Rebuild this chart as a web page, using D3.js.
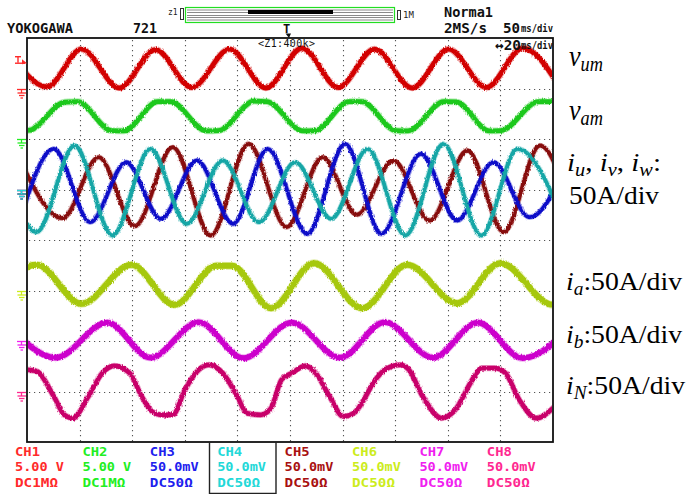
<!DOCTYPE html>
<html>
<head>
<meta charset="utf-8">
<script src="https://cdn.jsdelivr.net/npm/d3@7"></script>
<style>
  html, body { margin: 0; padding: 0; background: #fff; }
  svg { display: block; }
</style>
</head>
<body>
<svg id="scope" width="689" height="494"></svg>
<script>
// ---------- acquisition data (time in divisions, level in divisions above each channel's ground) ----------
const gridCols = [1, 2, 3, 4, 5, 6, 7, 8, 9];
const gridRows = [1, 2, 3, 4, 5, 6, 7];

// v_um (CH1)
const vumKnots = [[-0.363,0.78],[0.38,0.03],[1.035,0.78],[1.756,0.01],[2.444,0.77],[3.132,0.02],[3.853,0.78],[4.541,0.01],[5.229,0.80],[5.917,0.02],[6.606,0.78],[7.326,0.01],[8.014,0.78],[8.735,0.02],[9.423,0.80],[10.133,0.02]];
// v_am (CH2)
const vamKnots = [[-0.2,0.165],[0.03,0.17],[0.72,0.73],[0.96,0.74],[1.61,0.165],[1.84,0.16],[2.49,0.74],[2.73,0.74],[3.41,0.16],[3.64,0.165],[4.32,0.75],[4.56,0.74],[5.25,0.16],[5.47,0.165],[6.13,0.74],[6.36,0.74],[7.02,0.165],[7.24,0.16],[7.93,0.74],[8.16,0.735],[8.79,0.16],[9.01,0.165],[9.73,0.74],[9.97,0.74],[10.6,0.17]];
// i_v (CH3)
const ivKnots = [[-0.14,-0.62],[0.511,0.805],[1.199,-0.647],[1.887,0.54],[2.543,-0.581],[3.231,0.574],[3.919,-0.68],[4.574,0.805],[5.328,-0.878],[6.048,0.904],[6.736,-0.878],[7.49,0.706],[8.178,-0.614],[8.866,0.54],[9.554,-0.548],[10.35,0.75]];
// i_w (CH4)
const iwKnots = [[-0.51,0.8],[0.183,-0.845],[0.904,0.871],[1.625,-0.911],[2.346,0.805],[3.034,-0.68],[3.722,0.574],[4.41,-0.647],[5.098,0.541],[5.786,-0.581],[6.474,0.805],[7.195,-0.911],[7.916,0.904],[8.637,-0.911],[9.325,0.805],[10.28,-0.85]];
// i_u (CH5)
const iuKnots = [[-0.15,0.62],[0.675,-0.568],[1.363,0.64],[2.051,-0.726],[2.772,0.838],[3.493,-0.911],[4.214,0.904],[4.934,-0.746],[5.622,0.64],[6.27,-0.50],[6.966,0.574],[7.654,-0.614],[8.375,0.772],[9.063,-0.845],[9.751,0.871],[10.44,-0.8]];
// i_a (CH6)
const iaKnots = [[-0.72,-0.28],[0.183,0.508],[1.035,-0.264],[1.986,0.508],[2.805,-0.284],[3.6,0.49],[3.9,0.488],[4.64,-0.35],[5.459,0.541],[6.376,-0.35],[7.228,0.508],[8.178,-0.251],[8.997,0.541],[10.0,-0.284],[10.8,0.5]];
// i_b (CH7)
const ibKnots = [[-0.4,0.364],[0.544,-0.33],[1.527,0.364],[2.346,-0.33],[3.263,0.37],[4.115,-0.34],[5.033,0.364],[5.95,-0.33],[6.802,0.37],[7.72,-0.33],[8.571,0.364],[9.423,-0.34],[10.4,0.364]];
// i_N (CH8)
const iNKnots = [[-0.3,0.45],[0.0,0.43],[0.183,0.40],[0.511,-0.1],[0.708,-0.46],[0.872,-0.528],[1.166,-0.1],[1.429,0.363],[1.658,0.508],[1.953,0.363],[2.182,-0.1],[2.379,-0.396],[2.543,-0.462],[2.772,-0.462],[3.001,0.033],[3.264,0.43],[3.46,0.528],[3.722,0.363],[3.984,-0.066],[4.181,-0.429],[4.443,-0.462],[4.64,-0.33],[4.837,0.231],[5.033,0.363],[5.295,0.508],[5.491,0.363],[5.753,-0.1],[6.016,-0.495],[6.212,-0.429],[6.671,0.297],[6.802,0.43],[7.097,0.528],[7.261,0.43],[7.523,-0.1],[7.883,-0.528],[8.113,-0.396],[8.506,0.297],[8.637,0.462],[8.899,0.462],[9.096,0.363],[9.358,-0.165],[9.685,-0.528],[10.0,-0.33],[10.2,-0.1]];

// channel settings shown under the screen
const channelNames    = ["CH1", "CH2", "CH3", "CH4", "CH5", "CH6", "CH7", "CH8"];
const channelScales   = ["5.00 V", "5.00 V", "50.0mV", "50.0mV", "50.0mV", "50.0mV", "50.0mV", "50.0mV"];
const channelCoupling = ["DC1MΩ", "DC1MΩ", "DC50Ω", "DC50Ω", "DC50Ω", "DC50Ω", "DC50Ω", "DC50Ω"];
const channelTextColors  = ["#ff2a2a", "#22ee22", "#2020ee", "#22d8d8", "#a81010", "#ccec1c", "#f020f0", "#ff2890"];
const channelTraceColors = ["#d20000", "#1ec81e", "#0c0cc8", "#14a6a6", "#860808", "#a6c808", "#cc00cc", "#c8006a"];
const channelGroundRow   = [1, 2, 3, 3, 3, 5, 6, 7];

// annotations beside the screen
const labelVum = [["v", "i"], ["um", "s"]];
const labelVam = [["v", "i"], ["am", "s"]];
const labelUvw = [["i", "i"], ["u", "s"], [", ", "n"], ["i", "i"], ["v", "s"], [", ", "n"], ["i", "i"], ["w", "s"], [":", "n"]];
const labelUvwScale = [["50A/div", "n"]];
const labelIa = [["i", "i"], ["a", "s"], [":50A/div", "n"]];
const labelIb = [["i", "i"], ["b", "s"], [":50A/div", "n"]];
const labelIN = [["i", "i"], ["N", "s"], [":50A/div", "n"]];

// header readouts
const headerModel = "YOKOGAWA";
const headerRecord = "721";
const headerMode = "Norma1";
const headerRate = "2MS/s";
const headerMainTbValue = "50";
const headerMainTbUnit = "ms/div";
const headerZoomTbValue = "\u219420";
const headerZoomTbUnit = "ms/div";
const headerZoomRatio = "<Z1:400k>";

// ---------- layout ----------
const svg = d3.select("#scope");
const X0 = 27, X1 = 553, Y0 = 38, Y1 = 442;
const x = d3.scaleLinear().domain([0, 10]).range([X0, X1]);
const row = d3.scaleLinear().domain([0, 8]).range([Y0, Y1]);
const mono = "'DejaVu Sans Mono', 'Liberation Mono', monospace";
const serif = "'Liberation Serif', 'Times New Roman', serif";

const defs = svg.append("defs");
defs.append("clipPath").attr("id", "screen")
  .append("rect").attr("x", X0 + 1).attr("y", Y0 + 1).attr("width", X1 - X0 - 2).attr("height", Y1 - Y0 - 2);
const rough = defs.append("filter").attr("id", "rough")
  .attr("x", "-5%").attr("y", "-20%").attr("width", "110%").attr("height", "140%");
rough.append("feTurbulence").attr("type", "fractalNoise").attr("baseFrequency", "0.9 0.35")
  .attr("numOctaves", 2).attr("seed", 7).attr("result", "n");
rough.append("feDisplacementMap").attr("in", "SourceGraphic").attr("in2", "n")
  .attr("scale", 3).attr("xChannelSelector", "R").attr("yChannelSelector", "G");

// graticule
const grid = svg.append("g").attr("stroke", "#555").attr("stroke-width", 1.1)
  .attr("stroke-dasharray", "1.2 3.8");
grid.selectAll("line.v").data(gridCols).join("line").attr("class", "v")
  .attr("x1", d => Math.round(x(d)) + 0.5).attr("x2", d => Math.round(x(d)) + 0.5)
  .attr("y1", Y0 + 2).attr("y2", Y1);
grid.selectAll("line.h").data(gridRows).join("line").attr("class", "h")
  .attr("y1", d => Math.round(row(d)) + 0.5).attr("y2", d => Math.round(row(d)) + 0.5)
  .attr("x1", X0 + 2).attr("x2", X1);

// traces
const traces = [
  { knots: vumKnots, ch: 0, w: 4.8 },
  { knots: vamKnots, ch: 1, w: 4.8 },
  { knots: iuKnots,  ch: 4, w: 3.8 },
  { knots: ivKnots,  ch: 2, w: 3.8 },
  { knots: iwKnots,  ch: 3, w: 3.8 },
  { knots: iaKnots,  ch: 5, w: 6.0 },
  { knots: ibKnots,  ch: 6, w: 5.6 },
  { knots: iNKnots,  ch: 7, w: 4.6 }
];
const screen = svg.append("g").attr("clip-path", "url(#screen)");
traces.forEach(t => {
  const g0 = channelGroundRow[t.ch];
  const line = d3.line()
    .x(d => x(d[0]))
    .y(d => row(g0 - d[1]))
    .curve(d3.curveMonotoneX);
  const g = screen.append("g");
  g.append("path").attr("d", line(t.knots)).attr("fill", "none")
    .attr("stroke", channelTraceColors[t.ch]).attr("stroke-opacity", 0.35)
    .attr("stroke-width", t.w + 1.8).attr("stroke-linejoin", "round")
    .attr("filter", "url(#rough)");
  g.append("path").attr("d", line(t.knots)).attr("fill", "none")
    .attr("stroke", channelTraceColors[t.ch])
    .attr("stroke-width", t.w).attr("stroke-linejoin", "round")
    .attr("filter", "url(#rough)");
});

// frame
svg.append("rect").attr("x", X0).attr("y", Y0).attr("width", X1 - X0).attr("height", Y1 - Y0)
  .attr("fill", "none").attr("stroke", "#111").attr("stroke-width", 1.8);

// ground markers on the left edge
const groundCh = [0, 1, 2, 4, 3, 5, 6, 7];
groundCh.forEach(ch => {
  const yy = Math.round(row(channelGroundRow[ch])) + 0.5;
  const g = svg.append("g").attr("stroke", channelTextColors[ch]).attr("stroke-width", 1.3).attr("fill", "none");
  g.append("line").attr("x1", 17).attr("x2", 26).attr("y1", yy).attr("y2", yy);
  g.append("line").attr("x1", 21.5).attr("x2", 21.5).attr("y1", yy).attr("y2", yy + 3.5);
  g.append("line").attr("x1", 17.5).attr("x2", 26).attr("y1", yy + 3.5).attr("y2", yy + 3.5);
  g.append("line").attr("x1", 19).attr("x2", 24.5).attr("y1", yy + 6).attr("y2", yy + 6);
  g.append("line").attr("x1", 20.5).attr("x2", 23).attr("y1", yy + 8.5).attr("y2", yy + 8.5);
});

// trigger level marker (CH1)
{
  const ty = row(channelGroundRow[0] - 0.56);
  const g = svg.append("g").attr("stroke", channelTextColors[0]).attr("stroke-width", 1.4).attr("fill", "none");
  g.append("line").attr("x1", 15).attr("x2", 21).attr("y1", ty - 3.5).attr("y2", ty - 3.5);
  g.append("line").attr("x1", 18).attr("x2", 18).attr("y1", ty - 3.5).attr("y2", ty + 2.5);
  g.append("line").attr("x1", 15).attr("x2", 25).attr("y1", ty + 3).attr("y2", ty + 3);
  svg.append("path").attr("d", `M22,${ty - 1} L27,${ty + 3} L22,${ty + 4}Z`).attr("fill", channelTextColors[0]);
}

// header
const hdr = svg.append("g").attr("font-family", mono).attr("font-weight", "bold").attr("fill", "#111");
hdr.append("text").attr("x", 7).attr("y", 33).attr("font-size", 14).attr("textLength", 66)
  .attr("lengthAdjust", "spacingAndGlyphs").text(headerModel);
hdr.append("text").attr("x", 133).attr("y", 33).attr("font-size", 14).attr("textLength", 24)
  .attr("lengthAdjust", "spacingAndGlyphs").text(headerRecord);
hdr.append("text").attr("x", 444).attr("y", 17).attr("font-size", 14).attr("textLength", 49)
  .attr("lengthAdjust", "spacingAndGlyphs").text(headerMode);
hdr.append("text").attr("x", 444).attr("y", 33).attr("font-size", 14).attr("textLength", 43)
  .attr("lengthAdjust", "spacingAndGlyphs").text(headerRate);
hdr.append("text").attr("x", 503).attr("y", 33).attr("font-size", 14).attr("textLength", 17)
  .attr("lengthAdjust", "spacingAndGlyphs").text(headerMainTbValue);
hdr.append("text").attr("x", 521).attr("y", 32).attr("font-size", 11).attr("textLength", 32)
  .attr("lengthAdjust", "spacingAndGlyphs").text(headerMainTbUnit);
hdr.append("text").attr("x", 495).attr("y", 50).attr("font-size", 14).attr("textLength", 26)
  .attr("lengthAdjust", "spacingAndGlyphs").text(headerZoomTbValue);
hdr.append("text").attr("x", 521).attr("y", 49).attr("font-size", 11).attr("textLength", 32)
  .attr("lengthAdjust", "spacingAndGlyphs").text(headerZoomTbUnit);
hdr.append("text").attr("x", 258).attr("y", 47).attr("font-size", 10).attr("font-weight", "normal")
  .attr("textLength", 57).text(headerZoomRatio);

// trigger position marker
hdr.append("text").attr("x", 283).attr("y", 33).attr("font-size", 12).text("T");
svg.append("path").attr("d", "M285.5,33.5 L291,33.5 L289,38 Z").attr("fill", "#111");

// zoom position bar
const zb = svg.append("g");
zb.append("text").attr("x", 168).attr("y", 15).attr("font-family", mono).attr("font-size", 8).attr("fill", "#222").text("z1");
zb.append("rect").attr("x", 180.5).attr("y", 8.5).attr("width", 3).attr("height", 11).attr("fill", "none").attr("stroke", "#333");
zb.append("rect").attr("x", 185.5).attr("y", 7.5).attr("width", 209).attr("height", 15).attr("fill", "#fff")
  .attr("stroke", "#22dd22").attr("stroke-width", 1.2);
[10, 12.5, 15.5, 17.5, 20].forEach(yy => {
  zb.append("line").attr("x1", 187).attr("x2", 393).attr("y1", yy).attr("y2", yy).attr("stroke", "#8a8a8a").attr("stroke-width", 1.1);
});
zb.append("rect").attr("x", 248).attr("y", 10).attr("width", 85).attr("height", 4).attr("fill", "#000");
zb.append("rect").attr("x", 397.5).attr("y", 10.5).attr("width", 3).attr("height", 9).attr("fill", "none").attr("stroke", "#333");
zb.append("text").attr("x", 403).attr("y", 17.5).attr("font-family", mono).attr("font-size", 9).attr("fill", "#222").text("1M");

// channel setting readouts
const colX = d => 15 + d * 67.4;
const rd = svg.append("g").attr("font-family", mono).attr("font-weight", "bold").attr("font-size", 12.5);
channelNames.forEach((n, i) => {
  const c = rd.append("g").attr("fill", channelTextColors[i]);
  c.append("text").attr("x", colX(i)).attr("y", 455.5).attr("textLength", 25)
    .attr("lengthAdjust", "spacingAndGlyphs").text(n);
  c.append("text").attr("x", colX(i)).attr("y", 470.5).attr("textLength", channelScales[i].length * 8.3 - 1)
    .attr("lengthAdjust", "spacingAndGlyphs").text(channelScales[i]);
  c.append("text").attr("x", colX(i)).attr("y", 486.5).attr("textLength", 43)
    .attr("lengthAdjust", "spacingAndGlyphs").text(channelCoupling[i]);
});
svg.append("path").attr("d", "M209.5,442 V493.5 H276 V442").attr("fill", "none").attr("stroke", "#222").attr("stroke-width", 1.4);

// signal annotations
const ann = svg.append("g").attr("font-family", serif).attr("fill", "#000");
function annotate(parts, x0, y0, size, width) {
  const t = ann.append("text").attr("x", x0).attr("y", y0).attr("font-size", size)
    .attr("textLength", width).attr("lengthAdjust", "spacingAndGlyphs");
  let shifted = false;
  parts.forEach(([s, kind]) => {
    const sp = t.append("tspan").text(s);
    if (kind === "i") sp.attr("font-style", "italic");
    if (kind === "s") {
      sp.attr("font-style", "italic").attr("font-size", size * 0.7);
      if (!shifted) { sp.attr("dy", size * 0.18); shifted = true; }
    } else if (shifted) {
      sp.attr("dy", -size * 0.18); shifted = false;
    }
  });
  return t;
}
annotate(labelVum, 569, 66, 30, 34);
annotate(labelVam, 569, 120, 30, 34);
annotate(labelUvw, 567, 171, 26, 94);
annotate(labelUvwScale, 569, 204, 26, 90);
annotate(labelIa, 566, 290, 26, 116);
annotate(labelIb, 566, 343, 26, 116);
annotate(labelIN, 566, 394, 26, 119);
</script>
</body>
</html>
